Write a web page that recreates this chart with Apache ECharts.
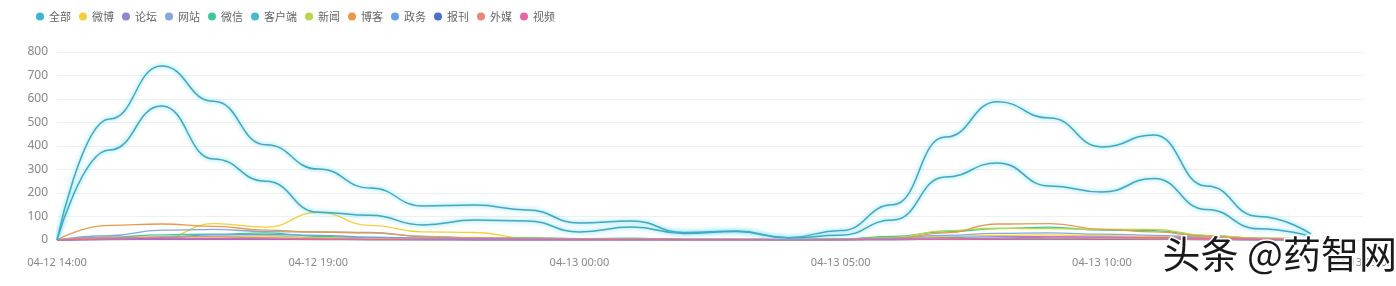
<!DOCTYPE html>
<html><head><meta charset="utf-8">
<script src="https://cdn.jsdelivr.net/npm/echarts@6/dist/echarts.min.js"></script>
<style>html,body{margin:0;padding:0;background:#fff}#c{width:1396px;height:286px}</style>
</head><body><div id="c"></div>
<script>
var categories = ["04-12 14:00","04-12 15:00","04-12 16:00","04-12 17:00","04-12 18:00","04-12 19:00","04-12 20:00","04-12 21:00","04-12 22:00","04-12 23:00","04-13 00:00","04-13 01:00","04-13 02:00","04-13 03:00","04-13 04:00","04-13 05:00","04-13 06:00","04-13 07:00","04-13 08:00","04-13 09:00","04-13 10:00","04-13 11:00","04-13 12:00","04-13 13:00","04-13 14:00","04-13 15:00"];
var seriesNames = ["全部","微博","论坛","网站","微信","客户端","新闻","博客","政务","报刊","外媒","视频"];
var seriesColors = ["#3bb7d6","#f4cf3c","#9083d8","#86a6e0","#40c996","#45b9d6","#b6d64c","#e89a48","#6b9de8","#4d6fd4","#e8877c","#e466a8"];
var all      = [0,515,740,590,405,302,221,145,149,128,72,81,32,38,10,40,150,438,588,519,396,447,230,100,26];
var weibo    = [0,3,8,70,55,118,62,35,32,8,4,3,2,2,1,3,8,15,20,22,18,15,8,4,2];
var luntan   = [0,2,3,3,3,2,2,1,1,1,1,1,1,1,1,1,2,3,4,4,3,3,2,1,1];
var wangzhan = [0,18,42,45,36,34,32,15,10,6,4,6,3,3,2,4,10,20,28,30,25,20,12,6,3];
var weixin   = [0,12,22,25,30,15,10,8,6,10,6,8,4,4,2,5,15,35,48,55,42,40,18,8,4];
var kehuduan = [0,383,570,345,250,118,105,64,85,81,34,55,28,36,8,20,85,268,328,230,204,262,130,48,15];
var xinwen   = [0,8,12,15,18,10,8,6,5,8,5,6,3,3,2,4,10,40,50,48,45,45,20,8,4];
var boke     = [0,62,68,58,42,34,30,15,10,6,4,4,3,3,2,3,8,30,68,70,45,35,15,6,3];
var zhengwu  = [0,5,10,22,24,20,12,8,6,5,4,4,3,3,2,3,6,10,14,14,12,10,6,3,2];
var baokan   = [0,3,5,5,4,3,2,2,1,1,1,1,1,1,1,1,2,3,4,4,3,3,2,1,1];
var waimei   = [0,10,13,13,10,6,4,3,3,3,3,3,2,2,2,2,3,4,5,5,5,4,3,2,2];
var shipin   = [0,3,5,5,4,3,2,2,1,1,1,1,1,1,1,1,2,4,8,12,12,10,6,3,1];
var yTicks = [0,100,200,300,400,500,600,700,800];

var dataList = [all,weibo,luntan,wangzhan,weixin,kehuduan,xinwen,boke,zhengwu,baokan,waimei,shipin];
var chart = echarts.init(document.getElementById('c'));
var series = seriesNames.map(function(n,i){
  var big = (i===0 || i===5);
  return {
    name:n, type:'line', smooth:true, smoothMonotone:'x', symbol:'none', data:dataList[i],
    z: big ? 5 : 3,
    lineStyle: big ? {width:1.5,color:'#44a7bd',shadowColor:'rgba(60,210,240,0.9)',shadowBlur:4}
                   : {width:1.3,color:seriesColors[i]},
    itemStyle:{color:seriesColors[i]}
  };
});
chart.setOption({
  animation:false,
  color:seriesColors,
  legend:{left:31,top:6,icon:'circle',itemWidth:8,itemHeight:8,itemGap:8,
    textStyle:{fontSize:11,color:'#666',fontFamily:'Noto Sans CJK SC'},data:seriesNames},
  grid:{left:57,right:26,top:52,bottom:46},
  xAxis:{type:'category',boundaryGap:false,data:categories,
    axisLine:{show:false},axisTick:{show:false},
    axisLabel:{interval:4,margin:17,fontSize:11,color:'#888',fontFamily:'Noto Sans'},
    splitLine:{show:false}},
  yAxis:{type:'value',min:yTicks[0],max:yTicks[yTicks.length-1],interval:100,
    axisLine:{show:false},axisTick:{show:false},
    axisLabel:{fontSize:12,color:'#888',margin:9,fontFamily:'Noto Sans'},
    splitLine:{lineStyle:{color:'#f0f0f0'}}},
  graphic:[{type:'text',left:1161,top:233,z:100,
    style:{text:'头条 @药智网',font:'38px "Noto Sans CJK SC"',fill:'#1a1a1a',
      stroke:'#ffffff',lineWidth:3,shadowColor:'rgba(0,0,0,0.35)',shadowBlur:2,shadowOffsetX:2,shadowOffsetY:2}}],
  series:series
});
</script></body></html>
